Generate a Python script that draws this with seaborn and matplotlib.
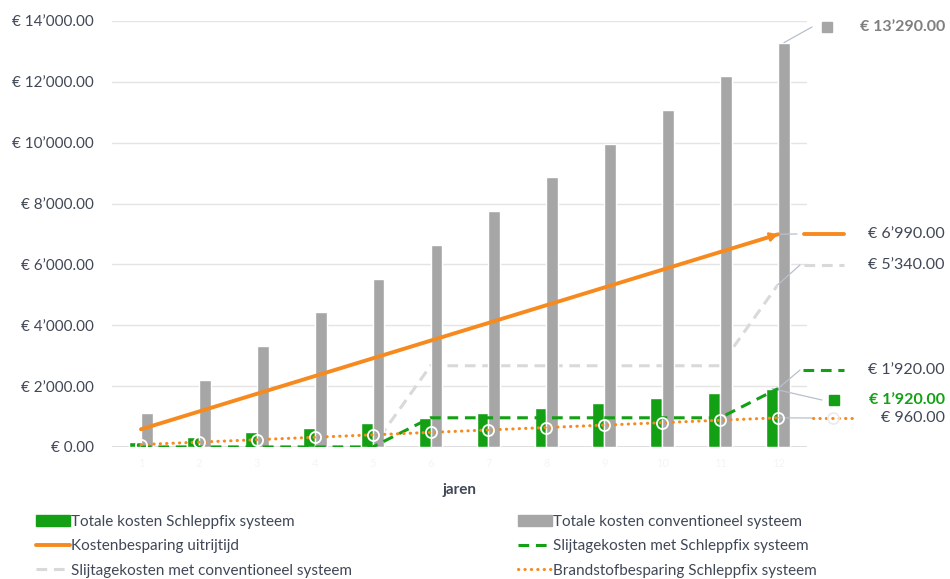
import numpy as np
import pandas as pd
import seaborn as sns
import matplotlib.pyplot as plt
from matplotlib.lines import Line2D
from matplotlib.patches import Patch
from matplotlib.ticker import FuncFormatter

# data (12 years)
JAREN = [str(j) for j in range(1, 13)]
TOTAAL_SCHLEPPFIX = [160, 320, 480, 640, 800, 960, 1120, 1280, 1440, 1600, 1760, 1920]
TOTAAL_CONVENTIONEEL = [1107.5, 2215, 3322.5, 4430, 5537.5, 6645,
                        7752.5, 8860, 9967.5, 11075, 12182.5, 13290]
BESPARING_UITRIJTIJD = [582.5, 1165, 1747.5, 2330, 2912.5, 3495,
                        4077.5, 4660, 5242.5, 5825, 6407.5, 6990]
SLIJTAGE_SCHLEPPFIX = [0, 0, 0, 0, 0, 960, 960, 960, 960, 960, 960, 1920]
SLIJTAGE_CONVENTIONEEL = [0, 0, 0, 0, 0, 2670, 2670, 2670, 2670, 2670, 2670, 5340]
BRANDSTOF_BESPARING = [80, 160, 240, 320, 400, 480, 560, 640, 720, 800, 880, 960]

LABELS = [
    "Totale kosten Schleppfix systeem",
    "Totale kosten conventioneel systeem",
    "Kostenbesparing uitrijtijd",
    "Slijtagekosten met Schleppfix systeem",
    "Slijtagekosten met conventioneel systeem",
    "Brandstofbesparing Schleppfix systeem",
]

GREEN = "#14a014"
GRAY = "#a6a6a6"
ORANGE = "#f68a1e"
LIGHT_GRAY = "#d9d9d9"
TEXT = "#404756"
LEADER = "#b8c0cc"

W, H = 950, 579


def euro(v):
    return f"€ {v:,.2f}".replace(",", "’")


def fx(px):
    return px / W


def fy(py):
    return 1 - py / H


sns.set_style("white")
plt.rcParams["font.family"] = ["Lato", "DejaVu Sans"]

fig = plt.figure(figsize=(9.5, 5.79), dpi=100)
ax = fig.add_axes([fx(112), fy(447), fx(807 - 112), (447 - 21) / H])

bars = pd.DataFrame({
    "jaar": JAREN * 2,
    "kosten": TOTAAL_SCHLEPPFIX + TOTAAL_CONVENTIONEEL,
    "systeem": [LABELS[0]] * 12 + [LABELS[1]] * 12,
})
sns.barplot(data=bars, x="jaar", y="kosten", hue="systeem", order=JAREN,
            hue_order=LABELS[:2], palette=[GREEN, GRAY], width=0.41,
            saturation=1, legend=False, ax=ax, zorder=2)

pos = np.arange(len(JAREN))
sns.lineplot(x=pos, y=SLIJTAGE_CONVENTIONEEL, ax=ax, color=LIGHT_GRAY,
             linewidth=2.2, linestyle=(0, (3.5, 2.2)), zorder=1)
sns.lineplot(x=pos, y=BESPARING_UITRIJTIJD, ax=ax, color=ORANGE,
             linewidth=2.8, zorder=4)
sns.lineplot(x=pos, y=SLIJTAGE_SCHLEPPFIX, ax=ax, color=GREEN,
             linewidth=2.2, linestyle=(0, (3.5, 2.2)), zorder=4)
sns.lineplot(x=pos, y=BRANDSTOF_BESPARING, ax=ax, color=ORANGE,
             linewidth=2.2, linestyle=(0, (0.1, 2.0)), dash_capstyle="round",
             marker="o", markersize=8, markerfacecolor="none",
             markeredgecolor="white", markeredgewidth=1.3, zorder=5)

# arrow head at the end of the orange line
ax.annotate("", xy=(pos[-1], BESPARING_UITRIJTIJD[-1]),
            xytext=(pos[-1] - 0.2, BESPARING_UITRIJTIJD[-1] - 0.2 * 582.5),
            arrowprops=dict(arrowstyle="-|>,head_length=0.45,head_width=0.25",
                            color=ORANGE, lw=2.0, shrinkA=0, shrinkB=0),
            zorder=4)

ax.set_xlim(-0.5, 11.5)
ax.set_ylim(0, 14000)
ax.set_yticks(range(0, 14001, 2000))
ax.yaxis.set_major_formatter(FuncFormatter(lambda v, p: euro(v)))
ax.tick_params(axis="y", length=0, pad=13, labelsize=11, labelcolor=TEXT)
ax.tick_params(axis="x", length=0, pad=8, labelsize=8, labelcolor="#f5f5f5")
ax.grid(axis="y", color="#e4e4e4", linewidth=1)
ax.set_axisbelow(True)
ax.axhline(0, color="#d9d9d9", linewidth=1.2, zorder=1)
sns.despine(ax=ax, left=True, bottom=True)
ax.set_xlabel("jaren", fontsize=11, fontweight="bold", color=TEXT, labelpad=10)
ax.set_ylabel("")

# data labels on the right
last = len(JAREN) - 1
off = 0.41 / 4
labels_right = [
    # (x data, y data, leader end px, label y px, key, colour, bold)
    (last + off, TOTAAL_CONVENTIONEEL[-1], 812, 27, "gray_sq", "#7f7f7f", True),
    (last, BESPARING_UITRIJTIJD[-1], 797, 234, "orange", TEXT, False),
    (last, SLIJTAGE_CONVENTIONEEL[-1], 800, 265, "lgray", TEXT, False),
    (last, SLIJTAGE_SCHLEPPFIX[-1], 800, 370, "green_dash", TEXT, False),
    (last - off, TOTAAL_SCHLEPPFIX[-1], 822, 400, "green_sq", GREEN, True),
    (last, BRANDSTOF_BESPARING[-1], 812, 418, "dots", TEXT, False),
]
for xd, yd, lx, ly, key, col, bold in labels_right:
    ax.annotate("", xy=(xd, yd), xycoords="data",
                xytext=(lx, H - ly), textcoords="figure pixels",
                arrowprops=dict(arrowstyle="-", color=LEADER, lw=0.9,
                                shrinkA=0, shrinkB=0), zorder=3,
                annotation_clip=False)
    fig.text(fx(945), fy(ly), euro(yd), ha="right", va="center",
             fontsize=11.5, color=col, fontweight="bold" if bold else "normal")
    if key == "gray_sq":
        fig.add_artist(Line2D([fx(827)], [fy(ly)], marker="s", markersize=7,
                              color=GRAY, linestyle="none"))
    elif key == "green_sq":
        fig.add_artist(Line2D([fx(834)], [fy(ly)], marker="s", markersize=7,
                              color=GREEN, linestyle="none"))
    elif key == "orange":
        fig.add_artist(Line2D([fx(804), fx(844)], [fy(ly)] * 2,
                              color=ORANGE, linewidth=2.8))
    elif key == "lgray":
        fig.add_artist(Line2D([fx(804), fx(844)], [fy(ly)] * 2, color=LIGHT_GRAY,
                              linewidth=2.2, linestyle=(0, (3.5, 2.2))))
    elif key == "green_dash":
        fig.add_artist(Line2D([fx(803), fx(844)], [fy(ly)] * 2, color=GREEN,
                              linewidth=2.2, linestyle=(0, (3.5, 2.2))))
    elif key == "dots":
        fig.add_artist(Line2D([fx(813), fx(852)], [fy(ly)] * 2, color=ORANGE,
                              linewidth=2.2, linestyle=(0, (0.1, 2.0)),
                              dash_capstyle="round"))
        fig.add_artist(Line2D([fx(833)], [fy(ly)], marker="o", markersize=8,
                              markerfacecolor="none", markeredgecolor="#ebebeb",
                              markeredgewidth=1.2, linestyle="none"))

# legend in two columns at the bottom
handles = [
    Patch(color=GREEN),
    Patch(color=GRAY),
    Line2D([], [], color=ORANGE, linewidth=2.8),
    Line2D([], [], color=GREEN, linewidth=2.2, linestyle=(0, (3.5, 2.2))),
    Line2D([], [], color=LIGHT_GRAY, linewidth=2.2, linestyle=(0, (3.5, 2.2))),
    Line2D([], [], color=ORANGE, linewidth=2.2, linestyle=(0, (0.1, 2.0)),
           dash_capstyle="round"),
]
for col, x0 in ((0, 36), (1, 518)):
    idx = [col, col + 2, col + 4]
    fig.legend([handles[i] for i in idx], [LABELS[i] for i in idx],
               loc="upper left", bbox_to_anchor=(fx(x0), fy(515)),
               frameon=False, fontsize=11, labelcolor=TEXT,
               handlelength=2.2, handleheight=0.7, handletextpad=0.1,
               labelspacing=0.68, borderaxespad=0, borderpad=0)

fig.savefig("out.png", dpi=100)
